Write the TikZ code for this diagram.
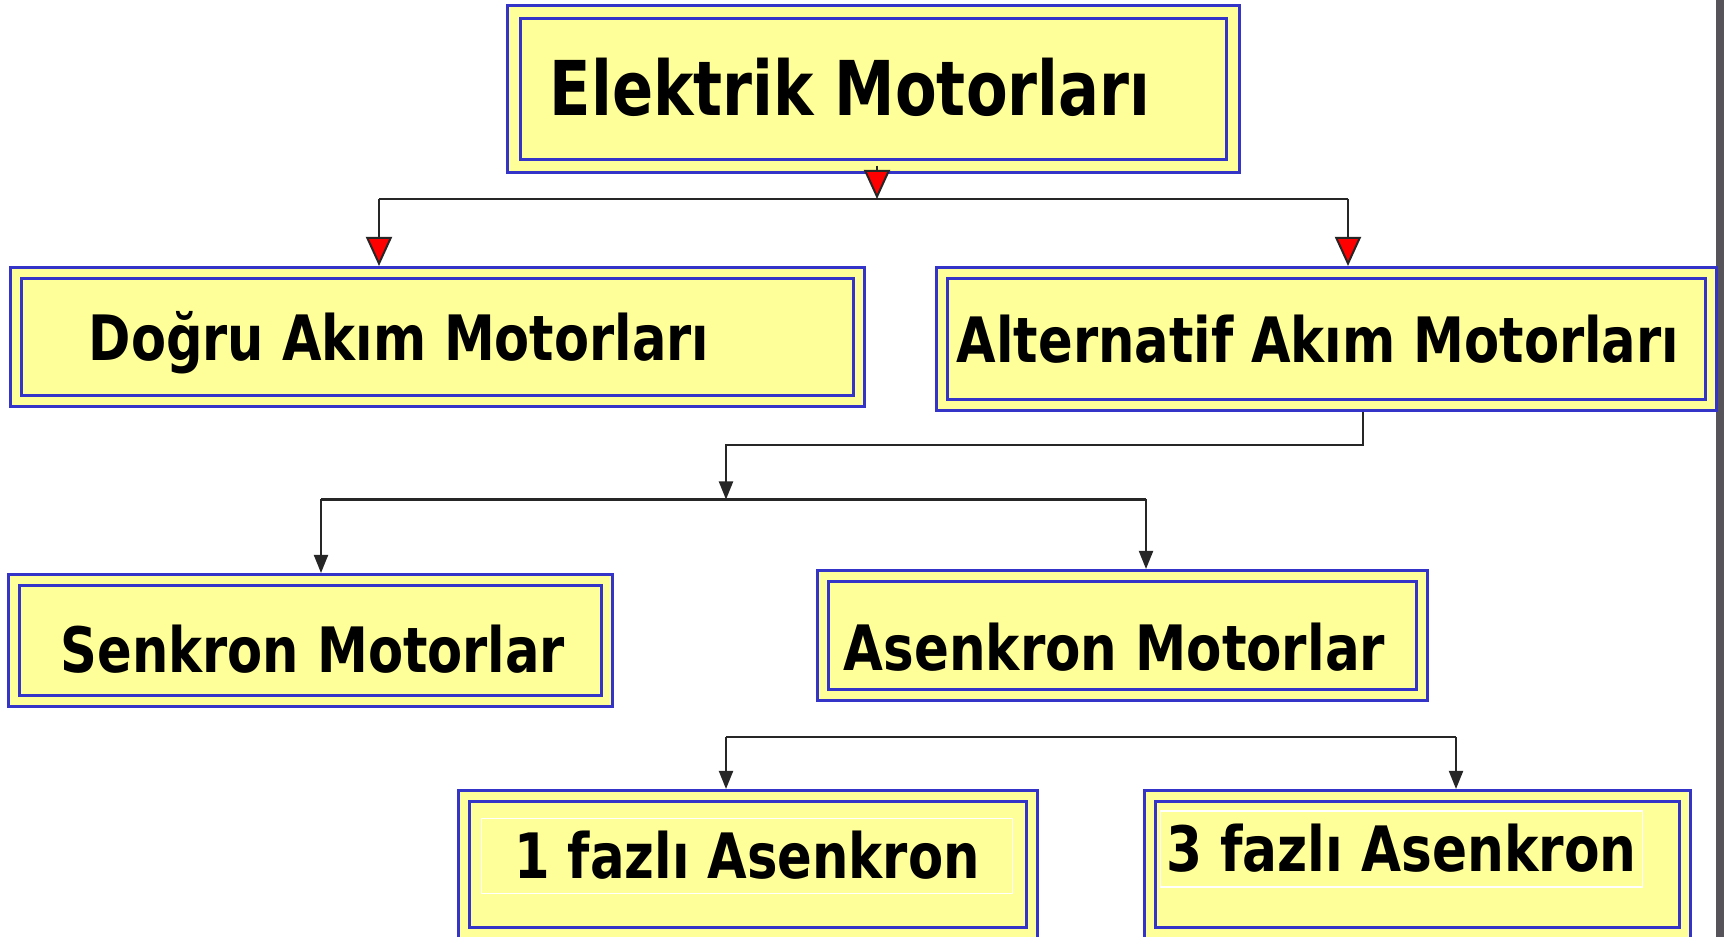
\documentclass[tikz,border=0pt]{standalone}
\usepackage{fontspec}
\usepackage{graphicx}
\newfontfamily\boxfont{DejaVu Sans}
\usetikzlibrary{arrows.meta}

\definecolor{boxfill}{HTML}{FFFF99}
\definecolor{boxline}{HTML}{3434C8}
\definecolor{wireclr}{HTML}{262626}
\definecolor{edgebar}{HTML}{56545A}

\tikzset{
  motorbox/.style={rectangle, draw=boxline, line width=0.03cm,
    double=boxfill, double distance=0.08cm, fill=boxfill,
    inner sep=0pt, outer sep=0.07cm},
  lbl/.style={inner sep=0pt, text depth=0pt, text height=0.458cm,
    font=\boxfont\bfseries\fontsize{17.8pt}{20pt}\selectfont},
  biglbl/.style={lbl, text height=0.55cm,
    font=\boxfont\bfseries\fontsize{21.5pt}{24pt}\selectfont},
  framedlbl/.style={lbl, draw=white, line width=0.015cm},
  wire/.style={draw=wireclr, line width=0.02cm},
  redtip/.style={wire, -{Triangle[length=0.29cm, width=0.26cm, fill=red]}},
  blacktip/.style={wire, -{Triangle[length=0.18cm, width=0.14cm]}}
}

\begin{document}
\begin{tikzpicture}[x=0.01cm, y=-0.01cm]
  \useasboundingbox (0,0) rectangle (1724,937);
  \fill[white] (0,0) rectangle (1724,937);
  \fill[edgebar] (1716,0) rectangle (1724,937);

  % boxes (double blue frames)
  \node[motorbox, outer sep=0pt, double distance=0.10cm,
        minimum width=7.18cm, minimum height=1.535cm] (top) at (873.5,88.75) {};
  \node[motorbox, minimum width=8.425cm, minimum height=1.275cm] (dc) at (437.75,336.75) {};
  \node[motorbox, minimum width=7.68cm, minimum height=1.315cm] (ac) at (1326.5,338.75) {};
  \node[motorbox, minimum width=5.92cm, minimum height=1.21cm] (sync) at (310.5,640.5) {};
  \node[motorbox, minimum width=5.98cm, minimum height=1.19cm] (async) at (1122.5,635.5) {};
  \node[motorbox, minimum width=5.67cm, minimum height=1.365cm] (one) at (748,864.25) {};
  \node[motorbox, minimum width=5.35cm, minimum height=1.365cm] (three) at (1417.5,864.25) {};

  % titles
  \node[biglbl] (topT) at (850,87.5) {\resizebox{6.00cm}{\height}{Elektrik Motorları}};
  \node[lbl] (dcT) at (399,337.5) {\resizebox{6.20cm}{\height}{Doğru Akım Motorları}};
  \node[lbl] (acT) at (1318,339.5) {\resizebox{7.22cm}{\height}{Alternatif Akım Motorları}};
  \node[lbl] (syncT) at (313,650) {\resizebox{5.04cm}{\height}{Senkron Motorlar}};
  \node[lbl] (asyncT) at (1114.5,648) {\resizebox{5.41cm}{\height}{Asenkron Motorlar}};
  \node[framedlbl, minimum width=5.31cm, minimum height=0.75cm] (oneT) at (747,856)
        {\resizebox{4.65cm}{\height}{1 fazlı Asenkron}};
  \node[framedlbl, minimum width=4.82cm, minimum height=0.76cm] (threeT) at (1401.5,849)
        {\resizebox{4.70cm}{\height}{3 fazlı Asenkron}};

  % junction points
  \coordinate (topJ) at (877,199);
  \coordinate (dcJ) at (379,199);
  \coordinate (acJ) at (1348,199);
  \coordinate (acDown) at (1363,445);
  \coordinate (acLeft) at (726,445);
  \coordinate (midJ) at (726,499.5);
  \coordinate (syncJ) at (321,499.5);
  \coordinate (asyncJ) at (1146,499.5);
  \coordinate (oneJ) at (726,737);
  \coordinate (threeJ) at (1456,737);

  % first level
  \draw[wire] (dcJ) -- (acJ);
  \draw[redtip] (top.south -| topJ) -- (topJ);
  \draw[redtip] (dcJ) -- (dcJ |- dc.north);
  \draw[redtip] (acJ) -- (acJ |- ac.north);

  % alternating current branch
  \draw[blacktip] (ac.south -| acDown) -- (acDown) -- (acLeft) -- (midJ);
  \draw[wire] (syncJ) -- (asyncJ);
  \draw[blacktip] (syncJ) -- (syncJ |- sync.north);
  \draw[blacktip] (asyncJ) -- (asyncJ |- async.north);

  % asynchronous branch
  \draw[wire] (oneJ) -- (threeJ);
  \draw[blacktip] (oneJ) -- (oneJ |- one.north);
  \draw[blacktip] (threeJ) -- (threeJ |- three.north);
\end{tikzpicture}
\end{document}
